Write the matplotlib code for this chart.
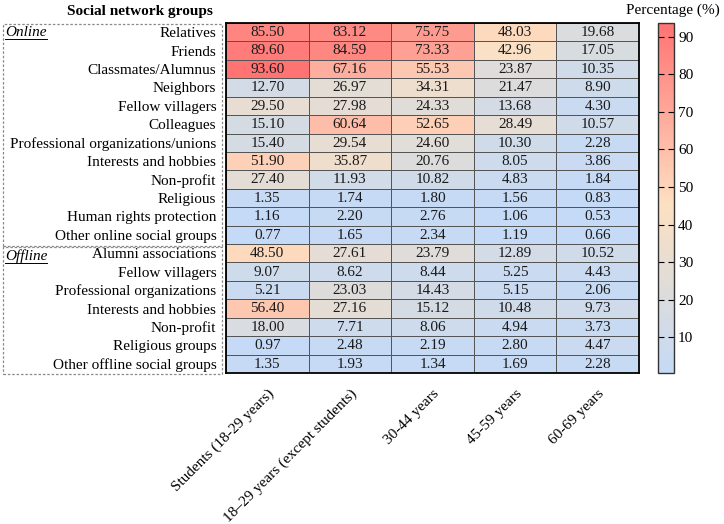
import numpy as np
import matplotlib
matplotlib.use("Agg")
import matplotlib.pyplot as plt
from matplotlib.colors import LinearSegmentedColormap
from matplotlib.patches import Rectangle
from matplotlib.lines import Line2D

plt.rcParams['font.family'] = ['Liberation Serif', 'DejaVu Serif']

row_labels = ["Relatives", "Friends", "Classmates/Alumnus", "Neighbors",
              "Fellow villagers", "Colleagues", "Professional organizations/unions",
              "Interests and hobbies", "Non-profit", "Religious",
              "Human rights protection", "Other online social groups",
              "Alumni associations", "Fellow villagers", "Professional organizations",
              "Interests and hobbies", "Non-profit", "Religious groups",
              "Other offline social groups"]
col_labels = ["Students (18-29 years)", "18–29 years (except students)",
              "30-44 years", "45-59 years", "60-69 years"]

students = [85.50, 89.60, 93.60, 12.70, 29.50, 15.10, 15.40, 51.90, 27.40, 1.35, 1.16, 0.77,
            48.50, 9.07, 5.21, 56.40, 18.00, 0.97, 1.35]
young = [83.12, 84.59, 67.16, 26.97, 27.98, 60.64, 29.54, 35.87, 11.93, 1.74, 2.20, 1.65,
         27.61, 8.62, 23.03, 27.16, 7.71, 2.48, 1.93]
age_30_44 = [75.75, 73.33, 55.53, 34.31, 24.33, 52.65, 24.60, 20.76, 10.82, 1.80, 2.76, 2.34,
             23.79, 8.44, 14.43, 15.12, 8.06, 2.19, 1.34]
age_45_59 = [48.03, 42.96, 23.87, 21.47, 13.68, 28.49, 10.30, 8.05, 4.83, 1.56, 1.06, 1.19,
             12.89, 5.25, 5.15, 10.48, 4.94, 2.80, 1.69]
age_60_69 = [19.68, 17.05, 10.35, 8.90, 4.30, 10.57, 2.28, 3.86, 1.84, 0.83, 0.53, 0.66,
             10.52, 4.43, 2.06, 9.73, 3.73, 4.47, 2.28]

data = np.array([students, young, age_30_44, age_45_59, age_60_69]).T
n_rows, n_cols = data.shape

cmap = LinearSegmentedColormap.from_list(
    "bgr", [(0.0, "#c5daf6"), (0.22, "#dcdcdc"), (0.48, "#fde0c2"), (1.0, "#ff7373")])

fs = 11
fig = plt.figure(figsize=(7.24, 5.24), dpi=100)
W, H = 724, 524
ax = fig.add_axes([226 / W, 1 - 373 / H, (639 - 226) / W, (373 - 23) / H])
mesh = ax.pcolormesh(data, cmap=cmap, vmin=data.min(), vmax=data.max(),
                     edgecolors="#555555", linewidth=0.55)
ax.set_xlim(0, n_cols)
ax.set_ylim(n_rows, 0)
for i in range(n_rows):
    for j in range(n_cols):
        ax.text(j + 0.5, i + 0.52, f"{data[i, j]:.2f}", ha="center", va="center",
                fontsize=fs, color="#1a1a1a")

ax.set_yticks(np.arange(n_rows) + 0.5)
ax.set_yticklabels(row_labels, fontsize=fs)
ax.set_xticks(np.arange(n_cols) + 0.5)
ax.set_xticklabels(col_labels, fontsize=fs, rotation=45, ha="right",
                   rotation_mode="anchor")
ax.tick_params(axis="y", length=0, pad=7)
ax.tick_params(axis="x", length=0, pad=10)
for s in ax.spines.values():
    s.set_linewidth(1.3)
    s.set_color("black")

# colorbar
cax = fig.add_axes([658 / W, 1 - 373 / H, 16 / W, (373 - 23) / H])
cbar = fig.colorbar(mesh, cax=cax, ticks=[10, 20, 30, 40, 50, 60, 70, 80, 90])
cbar.ax.tick_params(direction="in", left=True, right=True, length=4,
                    width=0.8, labelsize=fs, pad=3)
cbar.outline.set_linewidth(1.0)
cbar.outline.set_edgecolor("#333333")
fig.text(673 / W, 1 - 10 / H, "Percentage (%)", ha="center", va="center", fontsize=fs)

# group headers and dashed boxes
fig.text(140 / W, 1 - 12 / H, "Social network groups", ha="center", va="center",
         fontsize=fs, fontweight="bold")
box_kw = dict(transform=fig.transFigure, fill=False, linestyle=(0, (2, 1.5)),
              edgecolor="#8a8a8a", linewidth=0.9, clip_on=False)
fig.patches.append(Rectangle((3 / W, 1 - 245.5 / H), 219 / W, (245.5 - 24) / H, **box_kw))
fig.patches.append(Rectangle((3 / W, 1 - 374 / H), 219 / W, (374 - 246.8) / H, **box_kw))

renderer = fig.canvas.get_renderer()
for label, y_px in [("Online", 32.5), ("Offline", 256)]:
    t = fig.text(5 / W, 1 - y_px / H, label, ha="left", va="center",
                 fontsize=fs, fontstyle="italic")
    bb = t.get_window_extent(renderer).transformed(fig.transFigure.inverted())
    y_line = 1 - (y_px + 6.5) / H
    fig.lines.append(Line2D([bb.x0, bb.x1], [y_line, y_line], transform=fig.transFigure,
                            color="black", linewidth=0.7))

fig.savefig("out.png", dpi=100)
